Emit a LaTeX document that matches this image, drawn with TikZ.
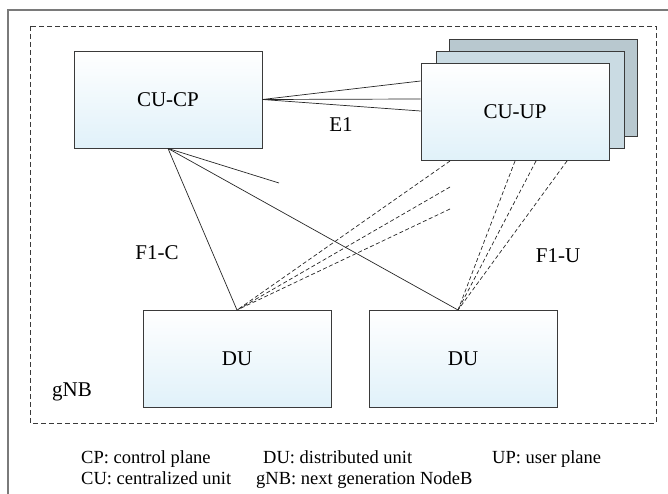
\documentclass[tikz,border=0pt]{standalone}
\usepackage{fontspec}
\setmainfont{Liberation Serif}
\definecolor{boxline}{HTML}{3A3A3A}
\definecolor{boxblue}{HTML}{E0F1F9}
\definecolor{back2}{HTML}{CADBE3}
\definecolor{back3}{HTML}{B8C8CF}
\definecolor{framegray}{HTML}{7A7A7A}
\begin{document}
\begin{tikzpicture}[x=1pt,y=-1pt,
  unitbox/.style={draw=boxline, line width=0.9pt, minimum width=188pt, minimum height=97pt, inner sep=0pt, top color=white, bottom color=boxblue, font=\fontsize{21}{24}\selectfont},
  backbox/.style={draw=boxline, line width=0.9pt, minimum width=188pt, minimum height=97pt, inner sep=0pt},
  lbl/.style={font=\fontsize{21}{24}\selectfont, inner sep=0pt},
  legend/.style={font=\fontsize{18.5}{22}\selectfont, inner sep=0pt, anchor=base west},
  cline/.style={draw=black!85, line width=0.7pt},
  dline/.style={draw=black!85, line width=0.7pt, dash pattern=on 4pt off 2.5pt}]
\useasboundingbox (0,0) rectangle (668,494);
% outer frame
\draw[framegray, line width=1.2pt] (8,494) -- (8,10) -- (668,10);
% gNB dashed border
\draw[boxline, line width=0.8pt, dash pattern=on 5pt off 3pt] (30,26) rectangle (656,423);
% boxes
\node[backbox, fill=back3] (cuup3) at (543,88) {};
\node[backbox, fill=back2] (cuup2) at (530,100) {};
\node[unitbox] (cuup) at (515,112) {CU-UP};
\node[unitbox] (cucp) at (168,99.5) {CU-CP};
\node[unitbox] (du1) at (237,359) {DU};
\node[unitbox] (du2) at (463,359) {DU};
% labels
\node[lbl] (e1) at (341,125) {E1};
\node[lbl] (f1c) at (157,253) {F1-C};
\node[lbl] (f1u) at (558,256) {F1-U};
\node[lbl, anchor=base west] (gnb) at (52,396) {gNB};
% E1 lines
\draw[cline] (cucp.east) -- ([yshift=31pt]cuup.west);
\draw[cline] (cucp.east) -- ([yshift=13pt]cuup.west);
\draw[cline] (cucp.east) -- ([yshift=1pt]cuup.west);
% F1-C lines
\coordinate (stub) at (279,183);
\coordinate (du2top) at (458,310);
\draw[cline] (cucp.south) -- (stub);
\draw[cline] (cucp.south) -- (du1.north);
\draw[cline] (cucp.south) -- (du2top);
% F1-U dashed lines
\coordinate (ua) at (450,161);
\coordinate (ub) at (450,187);
\coordinate (uc) at (450,209);
\coordinate (ud) at (515,161);
\coordinate (ue) at (536,161);
\coordinate (uf) at (567,161);
\draw[dline] (ua) -- (du1.north);
\draw[dline] (ub) -- (du1.north);
\draw[dline] (uc) -- (du1.north);
\draw[dline] (ud) -- (du2top);
\draw[dline] (ue) -- (du2top);
\draw[dline] (uf) -- (du2top);
% legend
\node[legend] (l1) at (81,463) {CP: control plane};
\node[legend] (l2) at (263,463) {DU: distributed unit};
\node[legend] (l3) at (492,463) {UP: user plane};
\node[legend] (l4) at (81,484) {CU: centralized unit};
\node[legend] (l5) at (256,484) {gNB: next generation NodeB};
\end{tikzpicture}
\end{document}
